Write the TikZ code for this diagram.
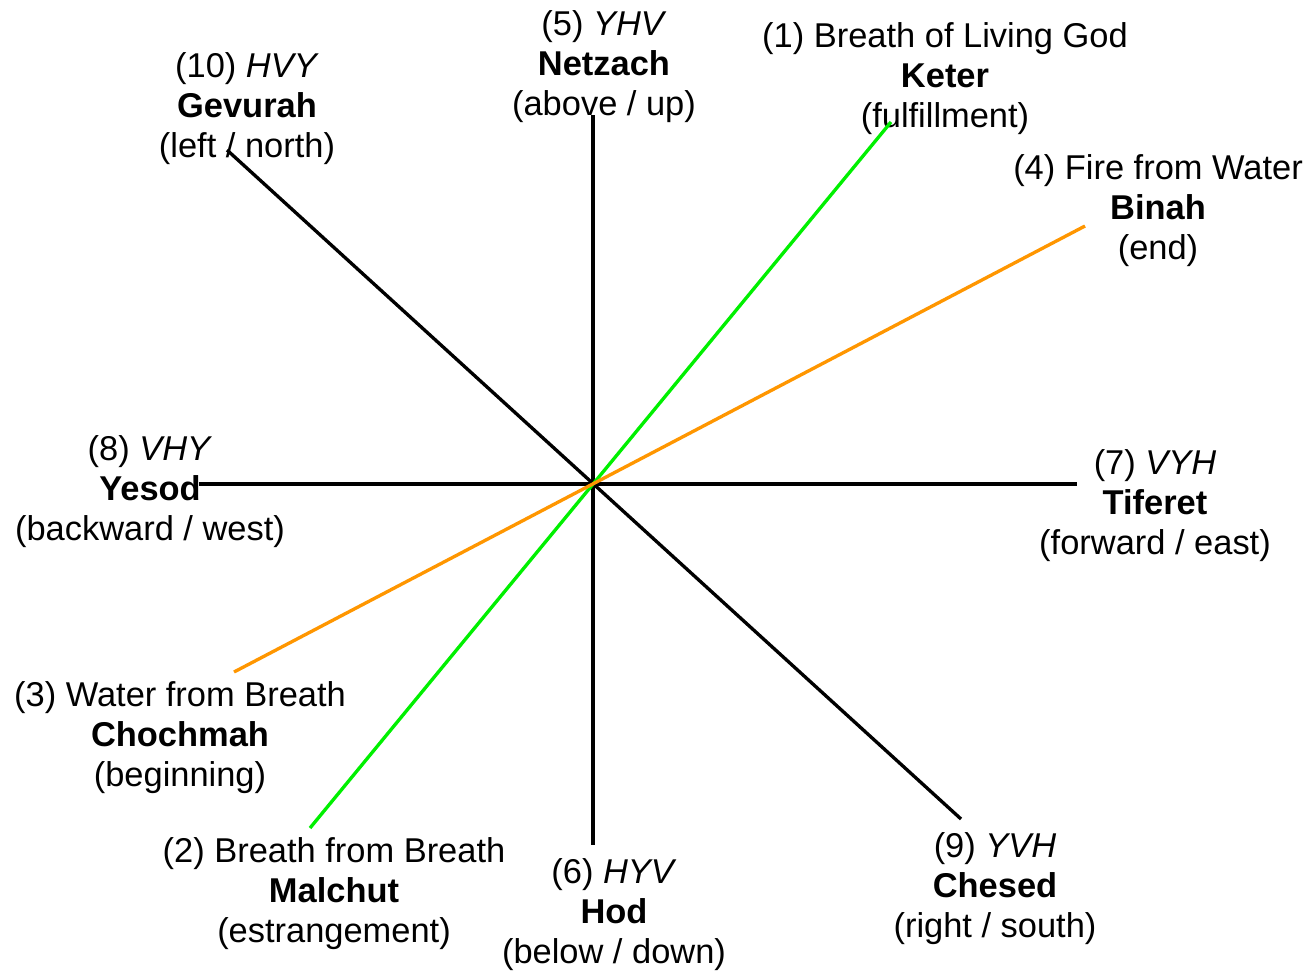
\documentclass[tikz,border=0pt]{standalone}
\usepackage{fontspec}
\setmainfont{Liberation Sans}
\definecolor{vert}{RGB}{0,240,0}
\definecolor{orange}{RGB}{255,150,0}
\tikzset{
  lbl/.style = {align=center, inner sep=0pt, font=\fontsize{19.6}{22.8}\selectfont},
  axe/.style = {line width=1.9pt},
}
\begin{document}
\begin{tikzpicture}[x = 0.02cm, y = -0.02cm]
          \useasboundingbox (0,0) rectangle (1310,971);

          \node[lbl] at ( 247, 109)  (gevurah)  {(10) \textit{HVY}\\\textbf{Gevurah}\\(left / north)};
          \node[lbl] at ( 604,  67)  (netzach)  {(5) \textit{YHV}\\\textbf{Netzach}\\(above / up)};
          \node[lbl] at ( 945,  79)  (keter)    {(1) Breath of Living God\\\textbf{Keter}\\(fulfillment)};
          \node[lbl] at (1158, 211)  (binah)    {(4) Fire from Water\\\textbf{Binah}\\(end)};
          \node[lbl] at ( 150, 492)  (yesod)    {(8) \textit{VHY}\\\textbf{Yesod}\\(backward / west)};
          \node[lbl] at (1155, 506)  (tiferet)  {(7) \textit{VYH}\\\textbf{Tiferet}\\(forward / east)};
          \node[lbl] at ( 180, 738)  (chochmah) {(3) Water from Breath\\\textbf{Chochmah}\\(beginning)};
          \node[lbl] at ( 334, 894)  (malchut)  {(2) Breath from Breath\\\textbf{Malchut}\\(estrangement)};
          \node[lbl] at ( 614, 915)  (hod)      {(6) \textit{HYV}\\\textbf{Hod}\\(below / down)};
          \node[lbl] at ( 995, 889)  (chesed)   {(9) \textit{YVH}\\\textbf{Chesed}\\(right / south)};

          % bouts des axes
          \coordinate (g) at ( 227, 150);
          \coordinate (c) at ( 961, 819);
          \coordinate (n) at ( 593, 115);
          \coordinate (h) at ( 593, 845);
          \coordinate (y) at ( 199, 484);
          \coordinate (t) at (1077, 484);
          \coordinate (k) at ( 891, 122);
          \coordinate (m) at ( 310, 828);
          \coordinate (b) at (1085, 226);
          \coordinate (o) at ( 234, 672);

          \draw[axe] (g) edge (c);
          \draw[axe] (n) edge (h);
          \draw[axe] (y) edge (t);
          \draw[axe, vert] (k) edge (m);
          \draw[axe, orange] (b) edge (o);

        \end{tikzpicture}
\end{document}
